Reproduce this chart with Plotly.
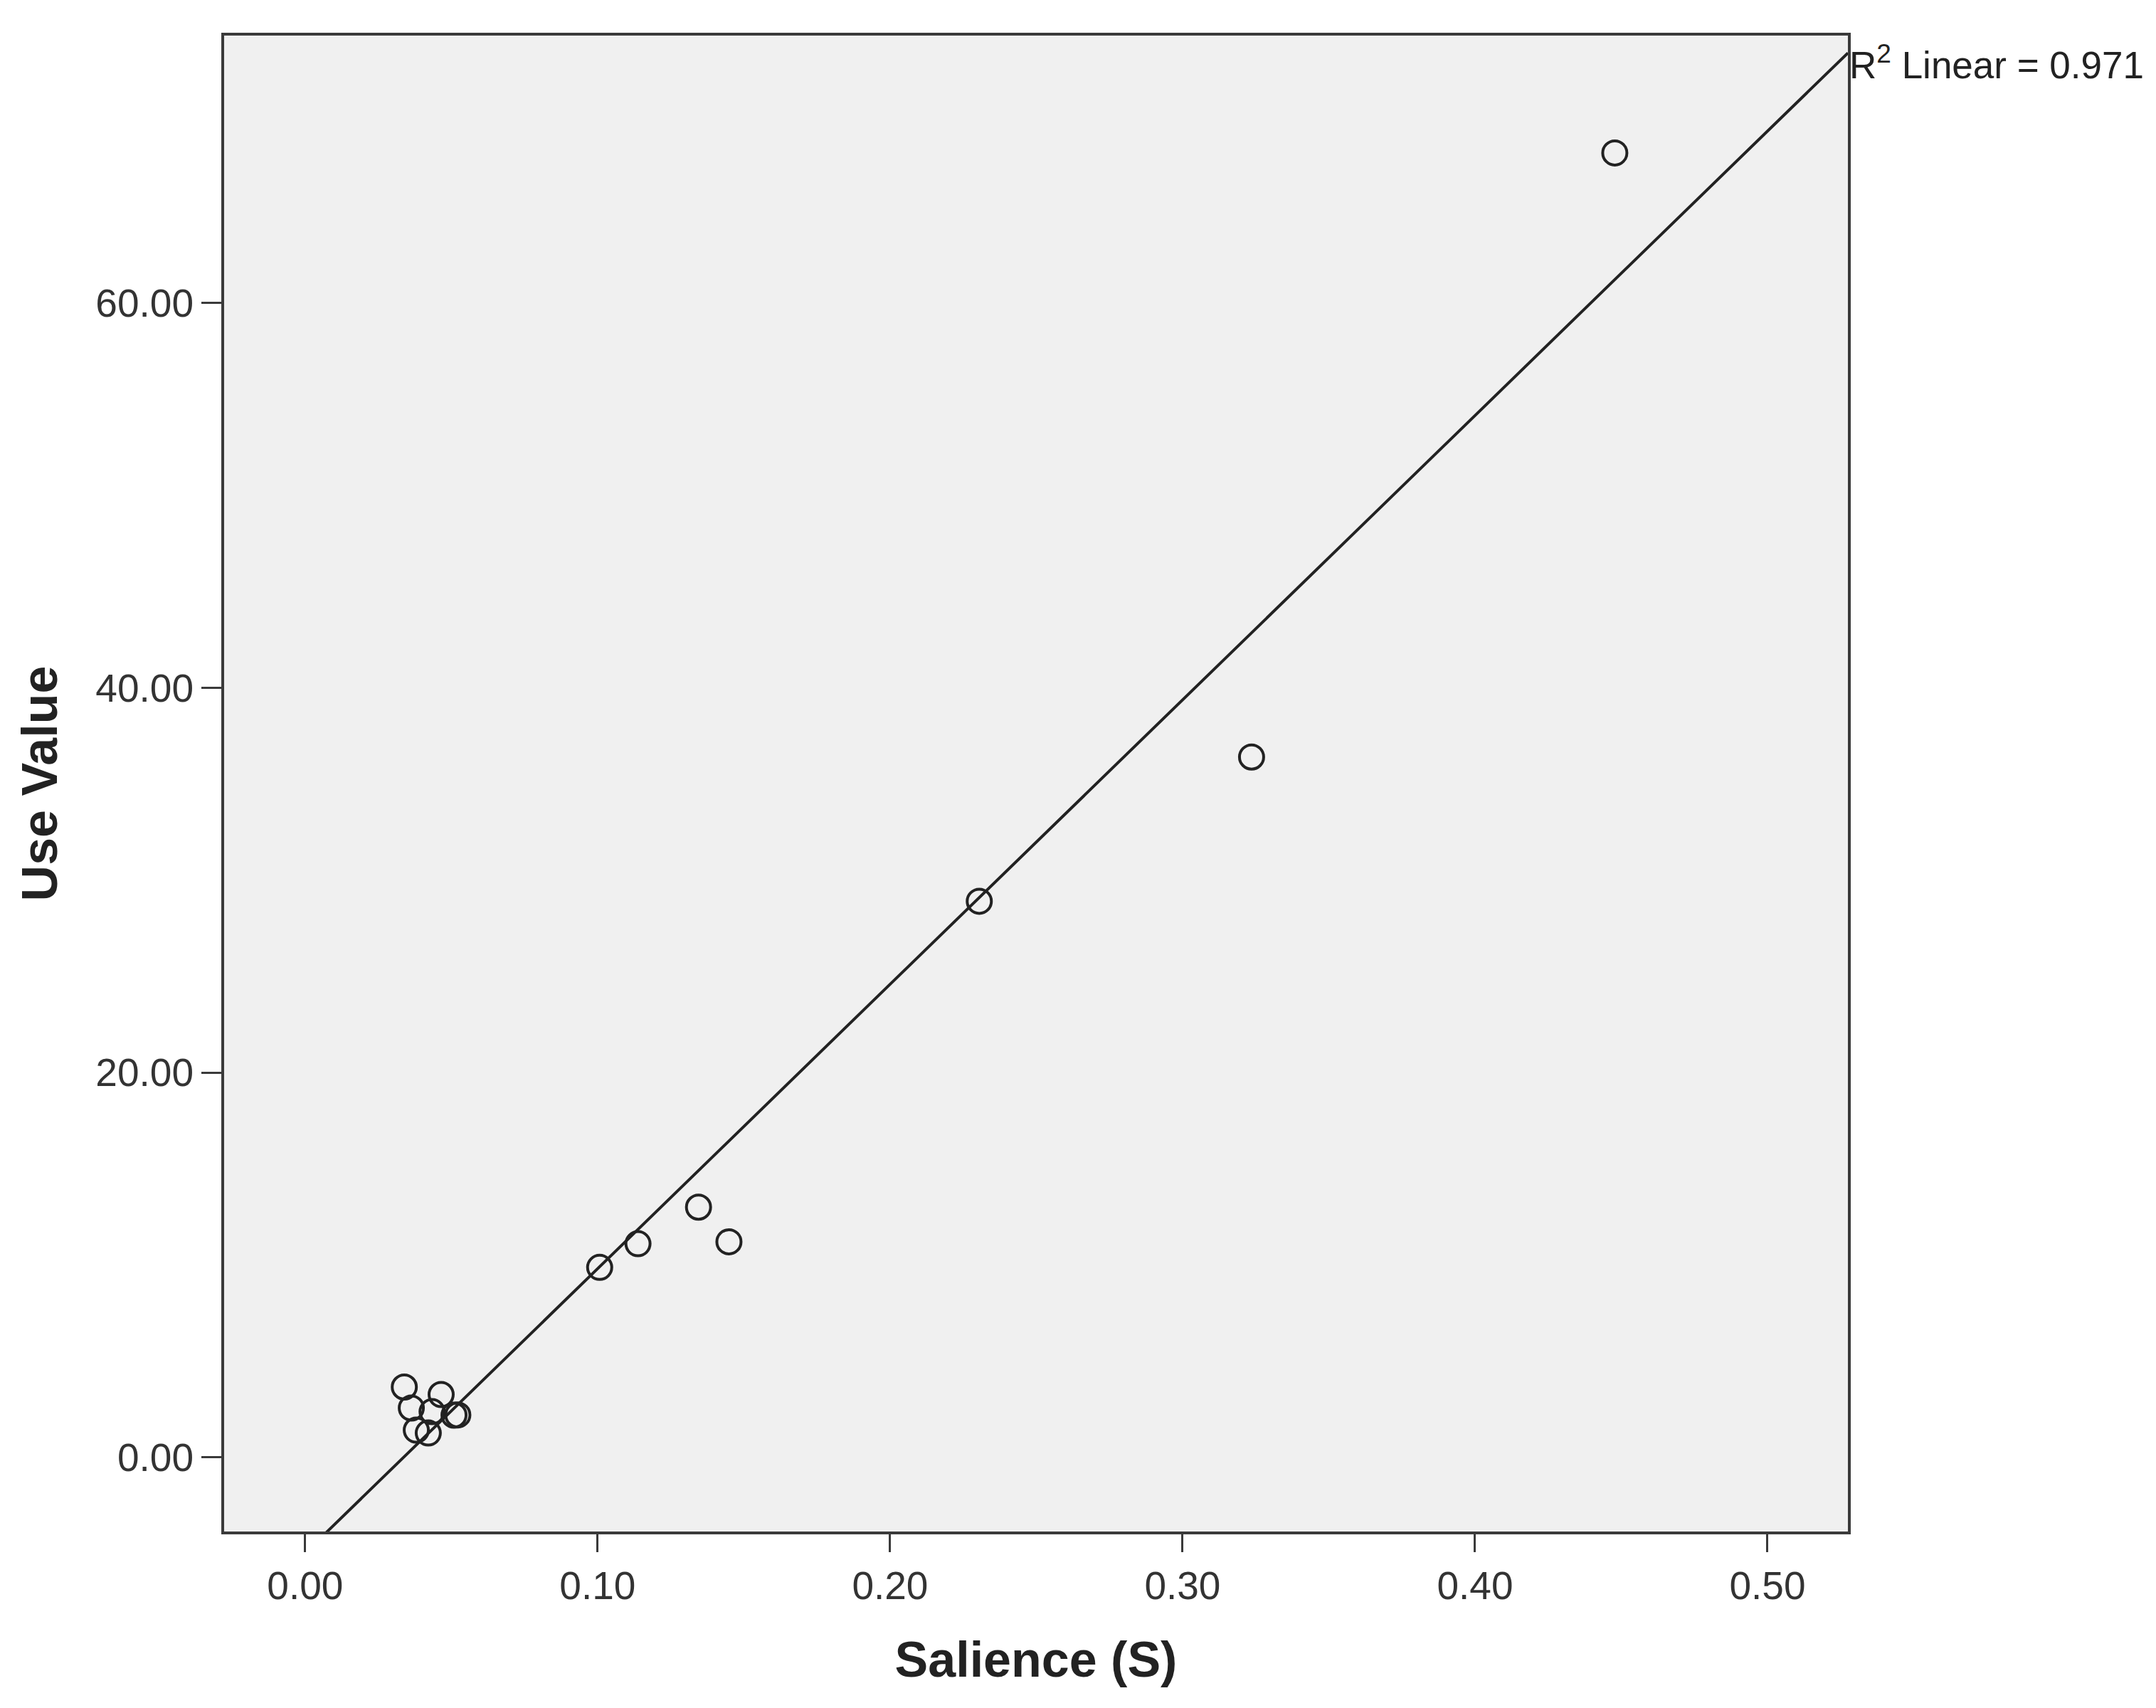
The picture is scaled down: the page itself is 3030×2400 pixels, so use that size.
import numpy as np
import plotly.graph_objects as go

# Salience (S) vs Use Value
salience = [0.4478, 0.3236, 0.2305, 0.1345, 0.1449, 0.1138, 0.1007,
            0.0339, 0.0363, 0.0465, 0.0434, 0.0509, 0.0522, 0.0380, 0.0421]
use_value = [67.8, 36.4, 28.9, 13.0, 11.2, 11.1, 9.87,
             3.65, 2.56, 3.26, 2.37, 2.19, 2.20, 1.41, 1.26]

x_ticks = [0.0, 0.1, 0.2, 0.3, 0.4, 0.5]
y_ticks = [0.0, 20.0, 40.0, 60.0]
x_range = [-0.0277, 0.5275]
y_range = [-3.86, 73.9]
r2_label = "R<sup>2</sup> Linear = 0.971"

FONT = "Liberation Sans, Arial, sans-serif"
INK = "#222222"

# least squares fit line across the whole x axis
slope, intercept = np.polyfit(salience, use_value, 1)
fit_x = np.array(x_range)
fit_y = slope * fit_x + intercept

fig = go.Figure()

fig.add_trace(go.Scatter(
    x=fit_x,
    y=fit_y,
    mode="lines",
    line=dict(color=INK, width=4),
    hoverinfo="skip",
    showlegend=False,
))

fig.add_trace(go.Scatter(
    x=salience,
    y=use_value,
    mode="markers",
    marker=dict(symbol="circle-open", size=34, color=INK, line=dict(width=4)),
    showlegend=False,
))

fig.add_annotation(
    text=r2_label,
    xref="paper", yref="paper",
    x=1.0, y=0.982,
    xanchor="left", yanchor="middle",
    showarrow=False,
    font=dict(family=FONT, size=53, color=INK),
)

axis_common = dict(
    showgrid=False,
    zeroline=False,
    showline=True,
    linecolor="#3a3a3a",
    linewidth=4,
    mirror=True,
    ticks="outside",
    tickcolor="#3a3a3a",
    tickwidth=3,
    tickfont=dict(family=FONT, size=55, color="#333333"),
)

fig.update_layout(
    width=3030,
    height=2400,
    paper_bgcolor="white",
    plot_bgcolor="#f0f0f0",
    margin=dict(l=307, r=441, t=42, b=256),
    xaxis=dict(
        range=x_range,
        tickvals=x_ticks,
        tickformat=".2f",
        ticklen=25,
        title=dict(text="<b>Salience (S)</b>", standoff=50,
                   font=dict(family=FONT, size=70, color=INK)),
        **axis_common,
    ),
    yaxis=dict(
        range=y_range,
        tickvals=y_ticks,
        tickformat=".2f",
        ticklen=28,
        title=dict(text="<b>Use Value</b>", standoff=32,
                   font=dict(family=FONT, size=70, color=INK)),
        **axis_common,
    ),
)

fig.write_html("out.html")
